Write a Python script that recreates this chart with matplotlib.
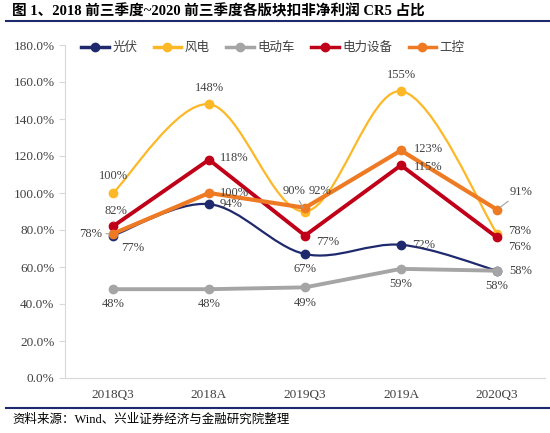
import numpy as np
import matplotlib
matplotlib.use('Agg')
import matplotlib.pyplot as plt
from matplotlib.path import Path
from matplotlib.patches import PathPatch
from matplotlib.lines import Line2D

plt.rcParams['font.family'] = ['Liberation Serif', 'Noto Sans CJK SC']

categories = ['2018Q3', '2018A', '2019Q3', '2019A', '2020Q3']
pv = [77, 94, 67, 72, 58]          # 光伏
wind = [100, 148, 90, 155, 78]     # 风电
ev = [48, 48, 49, 59, 58]          # 电动车
power = [82, 118, 77, 115, 76]     # 电力设备
ctrl = [78, 100, 92, 123, 91]      # 工控

names = ['光伏', '风电', '电动车', '电力设备', '工控']
colors = ['#1F2A6E', '#FDB827', '#A5A5A5', '#C00018', '#EE7B24']


def smooth_path(xs, ys):
    # Catmull-Rom style cubic bezier through the points (like Excel smoothing)
    pts = np.column_stack([xs, ys]).astype(float)
    verts = [pts[0]]
    codes = [Path.MOVETO]
    n = len(pts)
    for i in range(n - 1):
        p0 = pts[i - 1] if i > 0 else pts[i]
        p1 = pts[i]
        p2 = pts[i + 1]
        p3 = pts[i + 2] if i + 2 < n else pts[i + 1]
        c1 = p1 + (p2 - p0) / 6.0
        c2 = p2 - (p3 - p1) / 6.0
        verts += [c1, c2, p2]
        codes += [Path.CURVE4] * 3
    return Path(verts, codes)


fig = plt.figure(figsize=(5.5, 4.33), dpi=100)
ax = fig.add_axes([65 / 550, 55 / 433, 480 / 550, 333 / 433])

x = np.arange(len(categories))
series = [pv, wind, ev, power, ctrl]
smooth = [True, True, False, False, False]
widths = [1.6, 1.6, 2.8, 2.8, 3.0]

for vals, col, sm, lw in zip(series, colors, smooth, widths):
    if sm:
        ax.add_patch(PathPatch(smooth_path(x, vals), fill=False, edgecolor=col, lw=lw, zorder=2))
        ax.plot(x, vals, linestyle='none', marker='o', ms=6, color=col, zorder=3)
    else:
        ax.plot(x, vals, color=col, lw=lw, marker='o', ms=6, zorder=3)

# data labels: (dx, dy in points, ha) per series and point
lab_style = dict(fontsize=9, color='#404040', textcoords='offset points', va='center')
offsets = {
    0: [(14, -9, 'center'), (8, 0, 'left'), (0, -11, 'center'), (8, 0, 'left'), (9, 0, 'left')],
    1: [(0, 12, 'center'), (0, 12, 'center'), (-8, 15, 'center'), (0, 12, 'center'), (8, 2, 'left')],
    2: [(0, -11, 'center'), (0, -11, 'center'), (0, -11, 'center'), (0, -11, 'center'), (0, -11, 'center')],
    3: [(2, 11, 'center'), (8, 1, 'left'), (8, -5, 'left'), (9, -1, 'left'), (8, -7, 'left')],
    4: [(-8, 0, 'right'), (8, 0, 'left'), (11, 12, 'center'), (9, 1, 'left'), (9, 13, 'left')],
}
leaders = {(3, 0), (4, 0), (4, 4), (1, 2)}
for si, vals in enumerate(series):
    for i, v in enumerate(vals):
        dx, dy, ha = offsets[si][i]
        kw = {}
        if (si, i) in leaders:
            kw['arrowprops'] = dict(arrowstyle='-', color='#A0A0A0', lw=0.8, shrinkA=1, shrinkB=3)
        ax.annotate(f'{v}%', xy=(i, v), xytext=(dx, dy), ha=ha, **lab_style, **kw)

ax.set_xlim(-0.5, 4.5)
ax.set_ylim(0, 180)
ax.set_yticks(np.arange(0, 181, 20))
ax.set_yticklabels([f'{t:.1f}%' for t in np.arange(0, 181, 20)])
ax.set_xticks(x)
ax.set_xticklabels(categories)
for s in ['top', 'right']:
    ax.spines[s].set_visible(False)
for s in ['left', 'bottom']:
    ax.spines[s].set_color('#D9D9D9')
ax.tick_params(axis='y', colors='#D9D9D9', labelcolor='#404040', labelsize=9.5, length=4)
ax.tick_params(axis='x', length=0, labelcolor='#404040', labelsize=9.5, pad=8)

handles = [Line2D([0], [0], color=c, lw=2.5, marker='o', ms=6) for c in colors]
leg = ax.legend(handles, names, loc='upper left', bbox_to_anchor=(0.01, 1.045), ncol=5,
                frameon=False, handlelength=2.2, columnspacing=1.3, handletextpad=0.3,
                prop={'family': ['Noto Sans CJK SC'], 'size': 9})
for t in leg.get_texts():
    t.set_color('#404040')

fig.text(12 / 550, 1 - 11 / 433, '图 1、2018 前三季度~2020 前三季度各版块扣非净利润 CR5 占比',
         fontsize=10.5, fontweight='bold', va='center', ha='left', color='black')
fig.add_artist(Line2D([6 / 550, 1], [1 - 21 / 433, 1 - 21 / 433], color='#1F2A6E', lw=1.5))
fig.add_artist(Line2D([6 / 550, 1], [1 - 408 / 433, 1 - 408 / 433], color='#1F2A6E', lw=1.5))
fig.text(12 / 550, 1 - 420 / 433, '资料来源：Wind、兴业证券经济与金融研究院整理',
         fontsize=9, va='center', ha='left', color='black')

fig.savefig('out.png', dpi=100)
